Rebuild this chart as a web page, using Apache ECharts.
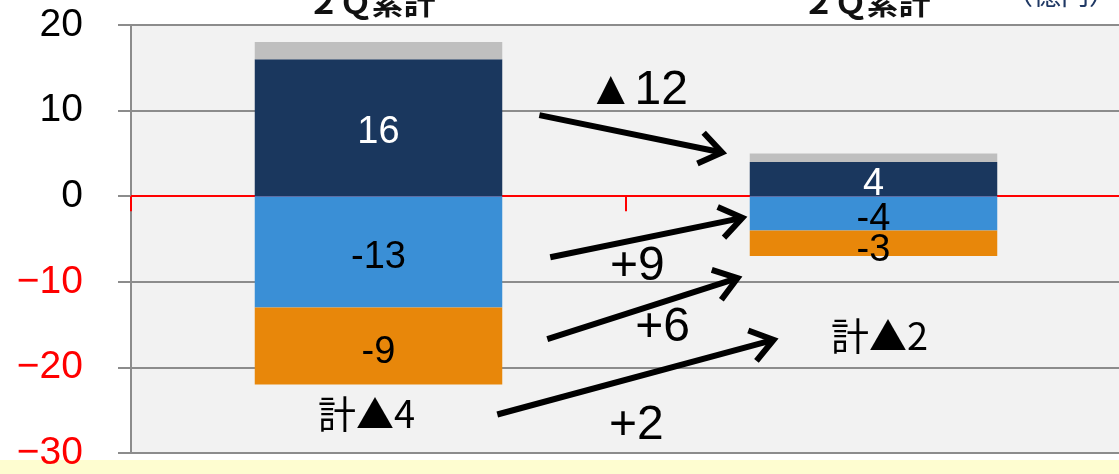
<!DOCTYPE html>
<html><head><meta charset="utf-8">
<script src="https://cdn.jsdelivr.net/npm/echarts@6/dist/echarts.min.js"></script>
<style>html,body{margin:0;padding:0;background:#fff}#c{width:1119px;height:474px}</style>
</head><body><div id="c"></div>
<script>
// ---- data ----
const categories = ['２Ｑ累計', '２Ｑ累計'];
const darkValues = [16, 4];
const grayValues = [2, 1];
const blueValues = [-13, -4];
const orangeValues = [-9, -3];
const yMin = -30, yMax = 20, yStep = 10;
// arrows: [fromX, fromY, toX, toY] in (category-position, value) units
const arrowFrom = [[0.325, 9.47], [0.347, -7.13], [0.341, -16.7], [0.240, -25.5]];
const arrowTo = [[0.700, 5.03], [0.741, -2.46], [0.731, -9.47], [0.804, -16.7]];
const deltaTexts = ['▲12', '+9', '+6', '+2'];
const deltaPos = [[0.523, 12.3], [0.523, -8.3], [0.574, -15.4], [0.521, -26.8]];
const totalTexts = ['計▲4', '計▲2'];
const totalPos = [[-0.024, -25.4], [1.012, -16.3]];
const unitText = '（億円）';

const chart = echarts.init(document.getElementById('c'));
const NUMFONT = '"Liberation Sans Narrow", "Liberation Sans", Arial, sans-serif';
const CJK = '"Noto Sans CJK JP", sans-serif';

const arrowData = arrowFrom.map((f, i) => [f[0], f[1], arrowTo[i][0], arrowTo[i][1]]);

chart.setOption({
  animation: false,
  backgroundColor: '#ffffff',
  grid: { left: 131, top: 25, width: 990, bottom: 21, show: true, backgroundColor: '#f2f2f2', borderWidth: 0, containLabel: false, outerBoundsMode: 'none' },
  graphic: [
    { type: 'rect', left: 0, bottom: 0, z: -100, shape: { width: 1119, height: 14 }, style: { fill: '#fefdd0' } },
    { type: 'text', right: 2, top: -20, style: { text: unitText, font: '28px "Noto Sans CJK JP"', fill: '#1f3864' } }
  ],
  xAxis: [
    {
      type: 'category', data: categories, position: 'bottom',
      axisLine: { onZero: true, lineStyle: { color: '#ff0000', width: 2 } },
      axisTick: { show: true, length: 15, lineStyle: { color: '#ff0000', width: 2 } },
      axisLabel: { show: false },
      splitLine: { show: false }
    },
    { type: 'value', min: -0.5, max: 1.5, show: false, axisLine: { show: false, onZero: false }, splitLine: { show: false } },
    {
      type: 'category', data: categories, position: 'top',
      axisLine: { show: false, onZero: false }, axisTick: { show: false }, splitLine: { show: false },
      axisLabel: { margin: 7, fontSize: 32, fontWeight: 'bold', fontFamily: CJK, color: '#111', padding: [0, 14, 0, 0] }
    }
  ],
  yAxis: {
    type: 'value', min: yMin, max: yMax, interval: yStep,
    axisLine: { show: true, onZero: false, lineStyle: { color: '#8c8c8c', width: 2 } },
    axisTick: { show: true, length: 13, lineStyle: { color: '#8c8c8c', width: 2 } },
    splitLine: { show: true, lineStyle: { color: '#8c8c8c', width: 2 } },
    axisLabel: {
      margin: 48, fontSize: 39, fontFamily: '"Liberation Sans", Arial, sans-serif',
      padding: [6, 0, 0, 0],
      formatter: v => (v < 0 ? '\u2212' + Math.abs(v) : String(v)),
      color: v => (Number(v) < 0 ? '#ff0000' : '#000000')
    }
  },
  series: [
    {
      name: 'dark', type: 'bar', stack: 's', data: darkValues, barWidth: '50%',
      itemStyle: { color: '#1a375e' },
      label: { show: true, position: 'inside', color: '#ffffff', fontSize: 38, offset: [0, 5], fontFamily: '"Liberation Sans", Arial, sans-serif' }
    },
    { name: 'gray', type: 'bar', stack: 's', data: grayValues, itemStyle: { color: '#bfbfbf' } },
    {
      name: 'blue', type: 'bar', stack: 's', data: blueValues,
      itemStyle: { color: '#3a8fd6' },
      label: { show: true, position: 'inside', color: '#000000', fontSize: 38, offset: [0, 6], fontFamily: '"Liberation Sans", Arial, sans-serif' }
    },
    {
      name: 'orange', type: 'bar', stack: 's', data: orangeValues,
      itemStyle: { color: '#e8870a' },
      label: { show: true, position: 'inside', color: '#000000', fontSize: 38, offset: [0, 7], fontFamily: '"Liberation Sans", Arial, sans-serif' }
    },
    {
      type: 'custom', xAxisIndex: 1, yAxisIndex: 0, clip: false, z: 5,
      data: arrowData,
      encode: { x: [0, 2], y: [1, 3] },
      renderItem: (params, api) => {
        const p1 = api.coord([api.value(0), api.value(1)]);
        const p2 = api.coord([api.value(2), api.value(3)]);
        const ang = Math.atan2(p2[1] - p1[1], p2[0] - p1[0]);
        const L = 27, a = 0.62;
        const e = [p2[0] - 3 * Math.cos(ang), p2[1] - 3 * Math.sin(ang)];
        const h1 = [e[0] - L * Math.cos(ang - a), e[1] - L * Math.sin(ang - a)];
        const h2 = [e[0] - L * Math.cos(ang + a), e[1] - L * Math.sin(ang + a)];
        return {
          type: 'group', children: [
            { type: 'line', shape: { x1: p1[0], y1: p1[1], x2: e[0], y2: e[1] }, style: { stroke: '#000', lineWidth: 6 } },
            { type: 'polyline', shape: { points: [h1, e, h2] }, style: { stroke: '#000', fill: null, lineWidth: 6, lineJoin: 'miter' } }
          ]
        };
      }
    },
    {
      type: 'scatter', xAxisIndex: 1, yAxisIndex: 0, symbolSize: 1, z: 6,
      itemStyle: { color: 'rgba(0,0,0,0)', opacity: 1 },
      data: deltaPos.map((p, i) => ({ value: p, name: deltaTexts[i] })),
      label: { show: true, position: 'inside', formatter: p => p.name, color: '#000', fontSize: 48, fontFamily: NUMFONT + ', ' + CJK }
    },
    {
      type: 'scatter', xAxisIndex: 1, yAxisIndex: 0, symbolSize: 1, z: 6,
      itemStyle: { color: 'rgba(0,0,0,0)', opacity: 1 },
      data: totalPos.map((p, i) => ({ value: p, name: totalTexts[i] })),
      label: { show: true, position: 'inside', formatter: p => p.name, color: '#000', fontSize: 38, fontFamily: CJK }
    }
  ]
});
</script></body></html>
